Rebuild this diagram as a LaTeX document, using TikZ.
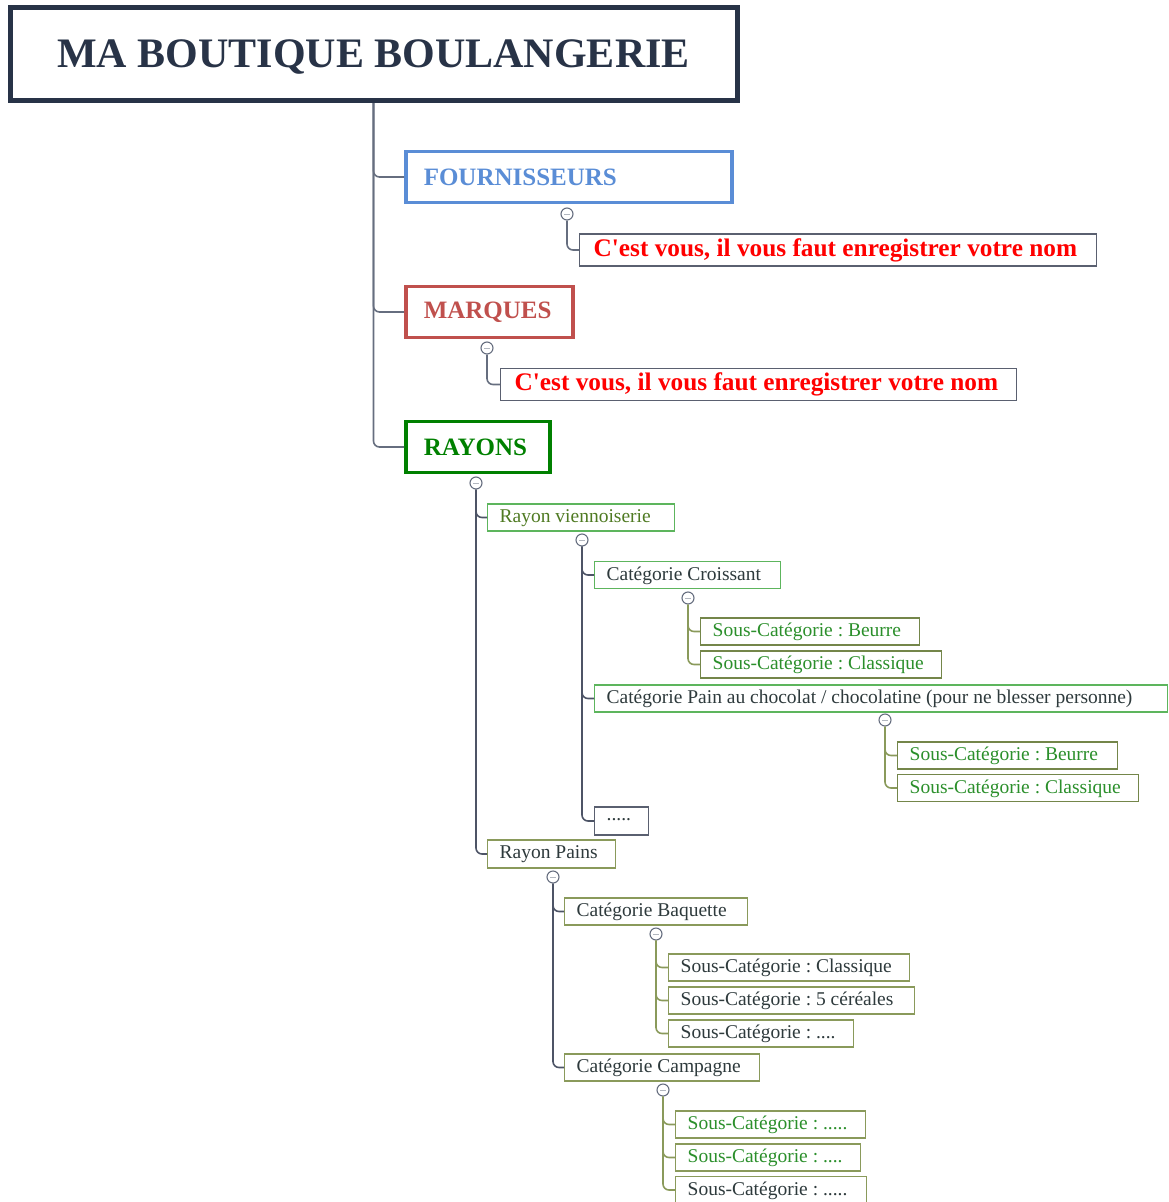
\documentclass[tikz,border=0pt]{standalone}
\usepackage{fontspec}
\setmainfont{Liberation Serif}
\usepackage{tikz}
\usetikzlibrary{positioning}

\definecolor{titlecol}{HTML}{283347}
\definecolor{fourncol}{HTML}{5A8DD6}
\definecolor{marqcol}{HTML}{C0504D}
\definecolor{rayoncol}{HTML}{008000}
\definecolor{trunkcol}{HTML}{666E7F}
\definecolor{notecol}{HTML}{5A6070}
\definecolor{greenbox}{HTML}{5DB55D}
\definecolor{olivebox}{HTML}{8A9A5B}
\definecolor{olivedark}{HTML}{74864A}
\definecolor{olivetext}{HTML}{4F7A22}
\definecolor{darktext}{HTML}{2E3A3C}
\definecolor{leafgreen}{HTML}{2B8F2B}
\definecolor{linkcol}{HTML}{4D5466}

% texte cale a gauche dans une boite de largeur fixe
\newcommand{\lbl}[2]{\makebox[#1pt][l]{#2}}

\begin{document}
\frenchspacing
\begin{tikzpicture}
[x=1pt,y=-1pt,
  main node/.style={draw=#1,text=#1,anchor=west,inner xsep=18pt,inner ysep=0pt,line width=3.5pt,
    minimum height=51,font=\bfseries\fontsize{25}{25}\selectfont},
  note node/.style={draw=notecol,text=red,anchor=west,inner xsep=14pt,inner ysep=0pt,line width=1.3pt,
    minimum height=32,font=\bfseries\fontsize{25.3}{25.3}\selectfont},
  leaf node/.style={draw=#1,anchor=west,inner xsep=12pt,inner ysep=0pt,line width=1.3pt,
    minimum height=27,text depth=3pt,font=\fontsize{19.5}{19.5}\selectfont},
  toggle/.style={circle,draw=trunkcol,fill=white,line width=1.1pt,inner sep=0pt,minimum size=12,
    path picture={\draw[trunkcol!50,line width=.8pt] (path picture bounding box.center) +(-3,0) -- +(3,0);}},
  link/.style={draw=#1,line width=1.6pt,rounded corners=6}]

  \useasboundingbox (0,0) rectangle (1169,1202);

  \node[draw=titlecol,text=titlecol,line width=5pt,minimum width=727,minimum height=93,text depth=0pt,
    font=\bfseries\fontsize{42}{42}\selectfont] (boutique) at (373.5,54) {MA BOUTIQUE BOULANGERIE};

  \node[main node=fourncol] (fournisseurs) at (404,177) {\lbl{290}{FOURNISSEURS}};
  \node[main node=marqcol] (marques) at (404,312) {\lbl{131}{MARQUES}};
  \node[main node=rayoncol] (rayons) at (404,447) {\lbl{108}{RAYONS}};

  \node[note node] (nomf) at (579,250) {\lbl{489}{C\textquotesingle est vous, il vous faut enregistrer votre nom}};
  \node[note node] (nomm) at (500,384.5) {\lbl{488}{C\textquotesingle est vous, il vous faut enregistrer votre nom}};

  \node[leaf node=greenbox,text=olivetext] (viennoiserie) at (487,517.5) {\lbl{163}{Rayon viennoiserie}};
  \node[leaf node=greenbox,text=darktext] (croissant) at (594,575) {\lbl{162}{Catégorie Croissant}};
  \node[leaf node=olivedark,text=leafgreen] (crbeurre) at (700,631.5) {\lbl{195}{Sous-Catégorie : Beurre}};
  \node[leaf node=olivedark,text=leafgreen] (crclassique) at (700,664.5) {\lbl{217}{Sous-Catégorie : Classique}};
  \node[leaf node=greenbox,text=darktext] (chocolat) at (594,698.5) {\lbl{549}{Catégorie Pain au chocolat / chocolatine (pour ne blesser personne)}};
  \node[leaf node=olivedark,text=leafgreen] (chbeurre) at (897,755.5) {\lbl{196}{Sous-Catégorie : Beurre}};
  \node[leaf node=olivedark,text=leafgreen] (chclassique) at (897,788) {\lbl{217}{Sous-Catégorie : Classique}};
  \node[leaf node=notecol,text=darktext,minimum height=28] (autres) at (594,821) {\lbl{30}{.....}};

  \node[leaf node=olivebox,text=darktext,minimum height=28] (pains) at (487,854) {\lbl{104}{Rayon Pains}};
  \node[leaf node=olivebox,text=darktext] (baguette) at (564,911.5) {\lbl{159}{Catégorie Baquette}};
  \node[leaf node=olivebox,text=darktext] (baclassique) at (668,967.5) {\lbl{217}{Sous-Catégorie : Classique}};
  \node[leaf node=olivebox,text=darktext] (bacereales) at (668,1000.5) {\lbl{222}{Sous-Catégorie : 5 céréales}};
  \node[leaf node=olivebox,text=darktext] (baautre) at (668,1033.5) {\lbl{161}{Sous-Catégorie : ....}};
  \node[leaf node=olivebox,text=darktext] (campagne) at (564,1067.5) {\lbl{171}{Catégorie Campagne}};
  \node[leaf node=olivebox,text=leafgreen] (caun) at (675,1124.5) {\lbl{166}{Sous-Catégorie : .....}};
  \node[leaf node=olivebox,text=leafgreen] (cadeux) at (675,1157.5) {\lbl{161}{Sous-Catégorie : ....}};
  \node[leaf node=olivebox,text=darktext] (catrois) at (675,1190) {\lbl{167}{Sous-Catégorie : .....}};

  % boutons de repli
  \node[toggle] (tfourn) at (567,214) {};
  \node[toggle] (tmarq) at (487,348) {};
  \node[toggle] (trayons) at (476,483) {};
  \node[toggle] (tvienn) at (582,540) {};
  \node[toggle] (tcrois) at (688,598) {};
  \node[toggle] (tchoc) at (885,720) {};
  \node[toggle] (tpains) at (553,877) {};
  \node[toggle] (tbag) at (656,934) {};
  \node[toggle] (tcamp) at (663,1090) {};

  \foreach \to in {fournisseurs,marques,rayons}
    \draw[link=trunkcol] (boutique.south) |- (\to.west);
  \draw[link=trunkcol] (tfourn.south) |- (nomf.west);
  \draw[link=trunkcol] (tmarq.south) |- (nomm.west);
  \foreach \from/\to in {trayons/viennoiserie,trayons/pains,tvienn/croissant,tvienn/chocolat,tvienn/autres,tpains/baguette,tpains/campagne}
    \draw[link=linkcol] (\from.south) |- (\to.west);
  \foreach \from/\to in {tcrois/crbeurre,tcrois/crclassique,tchoc/chbeurre,tchoc/chclassique,tbag/baclassique,tbag/bacereales,tbag/baautre,tcamp/caun,tcamp/cadeux,tcamp/catrois}
    \draw[link=olivebox] (\from.south) |- (\to.west);

\end{tikzpicture}
\end{document}
